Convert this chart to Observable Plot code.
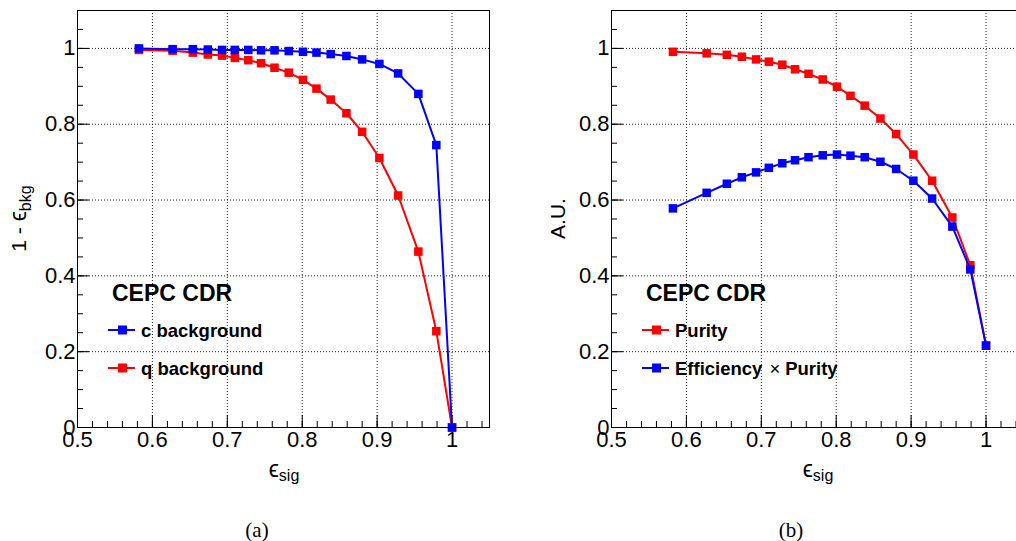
<!DOCTYPE html>
<html>
<head>
<meta charset="utf-8">
<script src="https://cdn.jsdelivr.net/npm/d3@7"></script>
<script src="https://cdn.jsdelivr.net/npm/@observablehq/plot@0.6"></script>
<style>
  html, body { margin: 0; padding: 0; background: #fff; }
  #wrap { position: relative; width: 1016px; height: 541px; overflow: hidden; background: #fff; }
  .panel { position: absolute; top: 0; width: 508px; height: 541px; }
  .caption { position: absolute; top: 520px; width: 508px; left: 0; text-align: center;
             font-family: "Liberation Serif", "DejaVu Serif", serif; font-size: 21px; line-height: 21px; color: #000; }
  .caption span { position: relative; left: 3px; }
</style>
</head>
<body>
<div id="wrap"></div>
<script>
// ---- data ----
const effSig = [0.582, 0.627, 0.654, 0.674, 0.693, 0.710, 0.728, 0.745, 0.763, 0.782,
                0.801, 0.819, 0.838, 0.859, 0.880, 0.903, 0.928, 0.955, 0.979, 1.000];
const cBackground = [1.000, 0.998, 0.998, 0.997, 0.996, 0.996, 0.996, 0.995, 0.995, 0.993,
                     0.991, 0.989, 0.985, 0.980, 0.971, 0.959, 0.934, 0.880, 0.745, 0.000];
const qBackground = [0.996, 0.994, 0.989, 0.984, 0.981, 0.975, 0.969, 0.961, 0.949, 0.936,
                     0.917, 0.894, 0.865, 0.829, 0.780, 0.711, 0.612, 0.464, 0.254, 0.000];
const purity = [0.991, 0.987, 0.983, 0.978, 0.971, 0.965, 0.957, 0.945, 0.933, 0.918,
                0.899, 0.875, 0.849, 0.815, 0.774, 0.720, 0.651, 0.554, 0.428, 0.216];
const effTimesPurity = [0.578, 0.619, 0.643, 0.660, 0.673, 0.685, 0.697, 0.705, 0.713, 0.718,
                        0.720, 0.717, 0.713, 0.701, 0.682, 0.651, 0.604, 0.530, 0.417, 0.216];

const xMajor = [0.5, 0.6, 0.7, 0.8, 0.9, 1.0];
const xMinor = d3.range(0, 28).map(i => +(0.5 + i * 0.02).toFixed(2));
const yMajor = [0, 0.2, 0.4, 0.6, 0.8, 1.0];
const yMinor = d3.range(0, 22).map(i => +(i * 0.05).toFixed(2));
const xGrid = [0.6, 0.7, 0.8, 0.9, 1.0];
const yGrid = [0.2, 0.4, 0.6, 0.8, 1.0];

const panels = [
  { left: 0, caption: "(a)", ytitle: ["1 - \u03F5", "bkg"], ytitleX: 26,
    series: [
      { name: "c background", color: "#0000ff", values: cBackground },
      { name: "q background", color: "#ff0000", values: qBackground }
    ],
    drawOrder: [1, 0] },
  { left: 534, caption: "(b)", ytitle: ["A.U.", null], ytitleX: 31,
    series: [
      { name: "Purity", color: "#ff0000", values: purity },
      { name: "Efficiency \u00D7 Purity", color: "#0000ff", values: effTimesPurity }
    ],
    drawOrder: [0, 1] }
];

const W = 508, H = 470, mL = 77, mR = 19, mT = 10, mB = 43;
const plotW = W - mL - mR, plotH = H - mT - mB;
const fmt = d => String(+d.toFixed(1));

for (const p of panels) {
  const marks = [
    Plot.ruleX(xGrid, { x: d => d, stroke: "#222", strokeDasharray: "1,2", strokeWidth: 1 }),
    Plot.ruleY(yGrid, { y: d => d, stroke: "#222", strokeDasharray: "1,2", strokeWidth: 1 }),
    Plot.tickX(xMinor, { x: d => d, insetTop: plotH - 6, stroke: "#000" }),
    Plot.tickX(xMajor, { x: d => d, insetTop: plotH - 12, stroke: "#000" }),
    Plot.tickY(yMinor, { y: d => d, insetRight: plotW - 6, stroke: "#000" }),
    Plot.tickY(yMajor, { y: d => d, insetRight: plotW - 12, stroke: "#000" }),
    Plot.axisX(xMajor, { tickSize: 0, tickPadding: 4, tickFormat: fmt, fontSize: 22, label: null }),
    Plot.axisY(yMajor, { tickSize: 0, tickPadding: 2, tickFormat: fmt, fontSize: 22, label: null })
  ];
  for (const i of p.drawOrder) {
    const s = p.series[i];
    const data = effSig.map((x, k) => ({ x, y: s.values[k] }));
    marks.push(Plot.line(data, { x: "x", y: "y", stroke: s.color, strokeWidth: 2 }));
    marks.push(Plot.dot(data, { x: "x", y: "y", symbol: "square", r: 4.8, fill: s.color, stroke: "none" }));
  }
  marks.push(Plot.frame({ stroke: "#000", strokeWidth: 1 }));

  const chart = Plot.plot({
    width: W, height: H,
    marginLeft: mL, marginRight: mR, marginTop: mT, marginBottom: mB,
    x: { domain: [0.5, 1.05], axis: null },
    y: { domain: [0, 1.1], axis: null },
    style: { fontFamily: "'Liberation Sans', Arial, Helvetica, sans-serif", fontSize: "22px", color: "#000", background: "#fff", overflow: "visible" },
    marks
  });

  const svg = d3.select(chart);
  const font = "'Liberation Sans', Arial, Helvetica, sans-serif";

  // x title
  const xt = svg.append("text").attr("x", mL + plotW / 2 + 1).attr("y", 477)
    .attr("text-anchor", "middle").attr("font-family", font).attr("fill", "#000");
  xt.append("tspan").attr("font-size", 23).text("\u03F5");
  xt.append("tspan").attr("font-size", 16).attr("dy", 4).text("sig");

  // y title
  const yt = svg.append("text")
    .attr("transform", `translate(${p.ytitleX},${mT + plotH / 2}) rotate(-90)`)
    .attr("text-anchor", "middle").attr("font-family", font).attr("font-size", 21).attr("fill", "#000");
  if (p.ytitle[1]) {
    yt.append("tspan").text("1 - ");
    yt.append("tspan").attr("font-size", 23).text("\u03F5");
    yt.append("tspan").attr("font-size", 16).attr("dy", 5).text(p.ytitle[1]);
  } else {
    yt.append("tspan").text(p.ytitle[0]);
  }

  // legend
  const lg = svg.append("g").attr("font-family", font).attr("font-weight", "bold")
    .attr("fill", "#000").attr("text-anchor", "start");
  lg.append("text").attr("x", 112).attr("y", 301).attr("font-size", 23).text("CEPC CDR");
  p.series.forEach((s, i) => {
    const cy = 330 + i * 38;
    lg.append("line").attr("x1", 108).attr("x2", 135).attr("y1", cy).attr("y2", cy)
      .attr("stroke", s.color).attr("stroke-width", 2);
    lg.append("rect").attr("x", 118).attr("y", cy - 4.5).attr("width", 9).attr("height", 9).attr("fill", s.color);
    const t = lg.append("text").attr("x", 141).attr("y", cy + 7).attr("font-size", 18.5);
    if (s.name.includes("\u00D7")) {
      const [a, b] = s.name.split("\u00D7");
      t.append("tspan").text(a.trim());
      t.append("tspan").attr("font-weight", "normal").attr("dx", 7).text("\u00D7");
      t.append("tspan").attr("dx", 5).text(b.trim());
    } else {
      t.text(s.name);
    }
  });

  const div = document.createElement("div");
  div.className = "panel";
  div.style.left = p.left + "px";
  div.appendChild(chart);
  const cap = document.createElement("div");
  cap.className = "caption";
  cap.innerHTML = "<span>" + p.caption + "</span>";
  div.appendChild(cap);
  document.getElementById("wrap").appendChild(div);
}
</script>
</body>
</html>
